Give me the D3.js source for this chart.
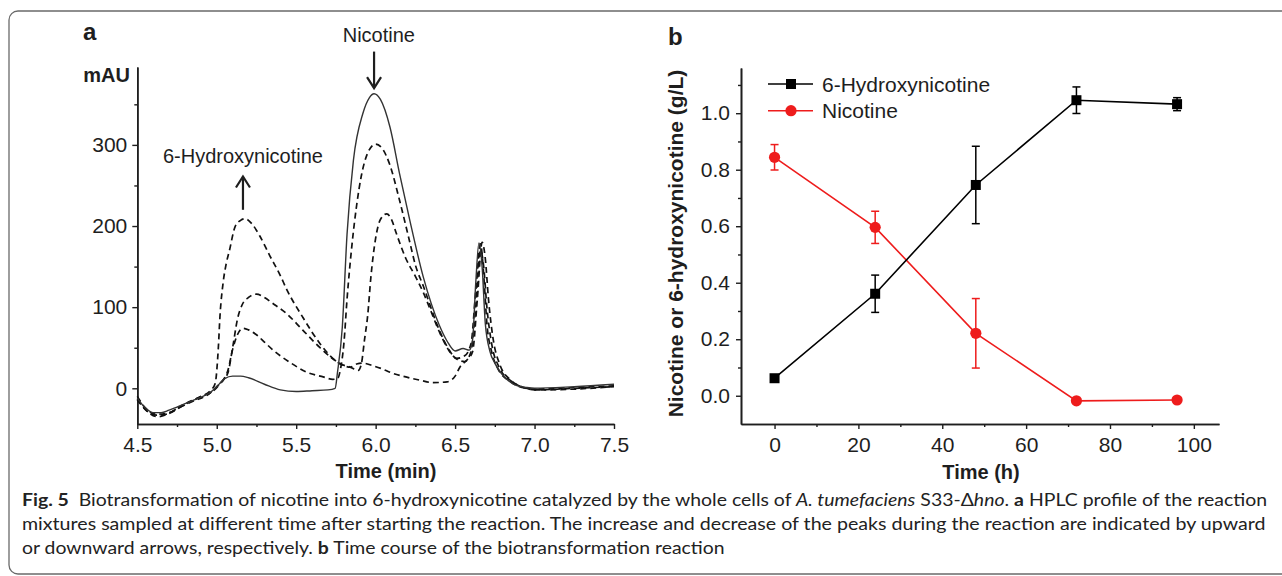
<!DOCTYPE html>
<html><head><meta charset="utf-8">
<script src="https://cdn.jsdelivr.net/npm/d3@7"></script>
<style>body{margin:0;background:#fff}svg{display:block}</style>
</head><body>
<svg id="c" width="1282" height="576"></svg>
<script>
// ---------------- DATA ----------------
// Panel a: HPLC chromatograms, [time (min), absorbance (mAU)]
const hplcT0 = [[4.50,-12],[4.55,-24],[4.60,-30],[4.65,-30],[4.70,-27],[4.80,-19],[4.90,-11],[4.96,-5],[5.00,2],[5.05,12],[5.10,15],[5.15,15],[5.20,13],[5.30,5],[5.40,-2],[5.50,-4],[5.60,-3],[5.70,-2],[5.745,0],[5.76,20],[5.79,75],[5.82,190],[5.86,281],[5.92,339],[5.96,358],[5.99,363],[6.03,356],[6.09,322],[6.15,265],[6.215,207],[6.30,137],[6.40,78],[6.45,58],[6.50,46],[6.55,49],[6.59,47],[6.61,60],[6.63,130],[6.65,179],[6.67,150],[6.69,80],[6.72,45],[6.75,31],[6.82,12],[6.88,4],[6.95,1],[7.00,0],[7.25,2],[7.50,5]];
const hplcT1 = [[4.50,-14],[4.55,-26],[4.62,-33],[4.68,-32],[4.75,-25],[4.85,-16],[4.95,-7],[5.00,2],[5.04,10],[5.07,22],[5.10,48],[5.13,66],[5.165,74],[5.20,72],[5.25,66],[5.30,57],[5.355,47],[5.40,40],[5.46,32],[5.565,20],[5.67,14],[5.73,11],[5.76,12],[5.78,25],[5.80,55],[5.82,110],[5.85,175],[5.88,225],[5.91,262],[5.95,290],[6.00,301],[6.04,296],[6.09,275],[6.15,232],[6.215,180],[6.25,152],[6.30,126],[6.40,72],[6.46,48],[6.51,37],[6.56,40],[6.60,55],[6.63,120],[6.66,178],[6.68,140],[6.70,80],[6.73,45],[6.77,24],[6.85,8],[6.92,1],[7.00,-1],[7.25,1],[7.50,3]];
const hplcT2 = [[4.50,-13],[4.56,-28],[4.63,-35],[4.70,-31],[4.80,-20],[4.90,-10],[4.98,-3],[5.03,8],[5.07,19],[5.10,50],[5.13,85],[5.16,103],[5.20,112],[5.25,116],[5.30,112],[5.35,105],[5.44,92],[5.54,72],[5.65,50],[5.72,38],[5.78,30],[5.84,26],[5.89,22],[5.91,30],[5.93,60],[5.95,90],[5.97,137],[6.00,185],[6.03,208],[6.07,215],[6.10,208],[6.13,191],[6.19,160],[6.25,138],[6.30,118],[6.35,94],[6.40,70],[6.46,47],[6.51,36],[6.56,33],[6.60,45],[6.63,100],[6.66,170],[6.68,150],[6.70,100],[6.73,55],[6.78,25],[6.86,8],[6.95,0],[7.00,-2],[7.25,0],[7.50,2]];
const hplcT3 = [[4.50,-10],[4.55,-24],[4.62,-32],[4.70,-30],[4.80,-19],[4.90,-10],[4.96,-3],[4.99,6],[5.01,50],[5.02,88],[5.04,130],[5.06,154],[5.08,170],[5.115,199],[5.15,207],[5.18,209],[5.22,203],[5.27,188],[5.335,163],[5.40,139],[5.44,122],[5.54,88],[5.65,55],[5.73,37],[5.80,28],[5.84,26],[5.88,30],[5.92,31],[5.98,28],[6.04,24],[6.10,19],[6.19,14],[6.28,10],[6.36,7],[6.45,8],[6.50,15],[6.53,26],[6.58,36],[6.61,45],[6.64,110],[6.67,180],[6.69,160],[6.71,110],[6.74,60],[6.78,30],[6.85,10],[6.92,2],[7.00,-2],[7.25,-1],[7.50,2]];
const hplcXTicks = [4.5, 5.0, 5.5, 6.0, 6.5, 7.0, 7.5];
const hplcXMinor = [4.75, 5.25, 5.75, 6.25, 6.75, 7.25];
const hplcYTicks = [0, 100, 200, 300];
const hplcYMinor = [50, 150, 250, 350];

// Panel b: time course
const timeH = [0, 24, 48, 72, 96];
const hydroxy = [0.062, 0.361, 0.746, 1.046, 1.032];
const hydroxyErr = [0, 0.066, 0.137, 0.047, 0.023];
const nicotine = [0.844, 0.596, 0.221, -0.018, -0.015];
const nicotineErr = [0.045, 0.057, 0.123, 0, 0];
const tcXTicks = [0, 20, 40, 60, 80, 100];
const tcXMinor = [10, 30, 50, 70, 90];
const tcYTicks = [0.0, 0.2, 0.4, 0.6, 0.8, 1.0];
const tcYMinor = [0.1, 0.3, 0.5, 0.7, 0.9, 1.1];
const seriesNames = ["6-Hydroxynicotine", "Nicotine"];

// ---------------- DRAW ----------------
const svg = d3.select("#c");
const FONT = "'Liberation Sans', Arial, Helvetica, sans-serif";
const INK = "#1e1e1e";
const RED = "#ee1c1c";

// frame
svg.append("rect").attr("x", 9).attr("y", 11).attr("width", 1320).attr("height", 563)
  .attr("rx", 9).attr("fill", "none").attr("stroke", "#6a6a6a").attr("stroke-width", 1.3);

function styleAxis(g, showText) {
  g.attr("font-family", FONT).attr("font-size", 21);
  g.select(".domain").attr("stroke", INK).attr("stroke-width", 1.6);
  g.selectAll(".tick line").attr("stroke", INK).attr("stroke-width", 1.4);
  g.selectAll(".tick text").attr("fill", INK);
  if (!showText) g.selectAll(".tick text").remove();
}

// ===== Panel a =====
const xA = d3.scaleLinear().domain([4.5, 7.5]).range([137.3, 614]);
const yA = d3.scaleLinear().domain([-44, 396]).range([424, 67]);

svg.append("g").attr("transform", "translate(0,424)")
  .call(d3.axisBottom(xA).tickValues(hplcXMinor).tickSize(3).tickSizeOuter(0))
  .call(g => styleAxis(g, false));
svg.append("g").attr("transform", "translate(0,424)")
  .call(d3.axisBottom(xA).tickValues(hplcXTicks).tickFormat(d3.format(".1f")).tickSize(5).tickPadding(8).tickSizeOuter(0))
  .call(g => styleAxis(g, true));
svg.append("g").attr("transform", "translate(137.3,0)")
  .call(d3.axisLeft(yA).tickValues(hplcYMinor).tickSize(3).tickSizeOuter(0))
  .call(g => styleAxis(g, false));
svg.append("g").attr("transform", "translate(137.3,0)")
  .call(d3.axisLeft(yA).tickValues(hplcYTicks).tickSize(5).tickPadding(5).tickSizeOuter(0))
  .call(g => styleAxis(g, true));

const lineA = d3.line().x(d => xA(d[0])).y(d => yA(d[1])).curve(d3.curveMonotoneX);
[hplcT1, hplcT2, hplcT3].forEach(s => {
  svg.append("path").datum(s).attr("d", lineA).attr("fill", "none")
    .attr("stroke", "#111").attr("stroke-width", 1.7).attr("stroke-dasharray", "6,4");
});
svg.append("path").datum(hplcT0).attr("d", lineA).attr("fill", "none")
  .attr("stroke", "#333").attr("stroke-width", 1.4);

// labels panel a
svg.append("text").attr("x", 83).attr("y", 40).text("a")
  .attr("font-family", FONT).attr("font-weight", "bold").attr("font-size", 24).attr("fill", INK);
svg.append("text").attr("x", 130).attr("y", 82).attr("text-anchor", "end").text("mAU")
  .attr("font-family", FONT).attr("font-weight", "bold").attr("font-size", 20).attr("fill", INK);
svg.append("text").attr("x", xA(6.02)).attr("y", yA(427)).attr("text-anchor", "middle").text("Nicotine")
  .attr("font-family", FONT).attr("font-size", 20).attr("fill", INK);
svg.append("text").attr("x", xA(5.165)).attr("y", yA(278)).attr("text-anchor", "middle").text("6-Hydroxynicotine")
  .attr("font-family", FONT).attr("font-size", 20).attr("fill", INK);
svg.append("text").attr("x", 386).attr("y", 478).attr("text-anchor", "middle").text("Time (min)")
  .attr("font-family", FONT).attr("font-weight", "bold").attr("font-size", 20).attr("fill", INK);

function arrow(x, y0, y1) { // from y0 (tail) to y1 (tip)
  const dir = y1 > y0 ? -1 : 1;
  svg.append("line").attr("x1", x).attr("x2", x).attr("y1", y0).attr("y2", y1)
    .attr("stroke", INK).attr("stroke-width", 2.2);
  svg.append("path").attr("d", `M${x - 7},${y1 + dir * 11} L${x},${y1} L${x + 7},${y1 + dir * 11}`)
    .attr("fill", "none").attr("stroke", INK).attr("stroke-width", 2.2);
}
arrow(xA(5.99), yA(415), yA(370));
arrow(xA(5.165), yA(220), yA(261));

// ===== Panel b =====
const xB = d3.scaleLinear().domain([-8, 106]).range([741, 1219]);
const yB = d3.scaleLinear().domain([-0.1, 1.16]).range([424, 68]);

svg.append("g").attr("transform", "translate(0,424)")
  .call(d3.axisBottom(xB).tickValues(tcXMinor).tickSize(3).tickSizeOuter(0))
  .call(g => styleAxis(g, false));
svg.append("g").attr("transform", "translate(0,424)")
  .call(d3.axisBottom(xB).tickValues(tcXTicks).tickFormat(d3.format("d")).tickSize(5).tickPadding(8).tickSizeOuter(0))
  .call(g => styleAxis(g, true));
svg.append("g").attr("transform", "translate(741,0)")
  .call(d3.axisLeft(yB).tickValues(tcYMinor).tickSize(3).tickSizeOuter(0))
  .call(g => styleAxis(g, false));
svg.append("g").attr("transform", "translate(741,0)")
  .call(d3.axisLeft(yB).tickValues(tcYTicks).tickFormat(d3.format(".1f")).tickSize(5).tickPadding(6).tickSizeOuter(0))
  .call(g => styleAxis(g, true));

const lineB = d3.line().x(d => xB(d.t)).y(d => yB(d.v));
const hyd = timeH.map((t, i) => ({t, v: hydroxy[i], e: hydroxyErr[i]}));
const nic = timeH.map((t, i) => ({t, v: nicotine[i], e: nicotineErr[i]}));

function errorBars(data, color) {
  const g = svg.append("g").attr("stroke", color).attr("stroke-width", 1.5);
  data.filter(d => d.e > 0).forEach(d => {
    const x = xB(d.t);
    g.append("line").attr("x1", x).attr("x2", x).attr("y1", yB(d.v - d.e)).attr("y2", yB(d.v + d.e));
    g.append("line").attr("x1", x - 4).attr("x2", x + 4).attr("y1", yB(d.v - d.e)).attr("y2", yB(d.v - d.e));
    g.append("line").attr("x1", x - 4).attr("x2", x + 4).attr("y1", yB(d.v + d.e)).attr("y2", yB(d.v + d.e));
  });
}
svg.append("path").datum(nic).attr("d", lineB).attr("fill", "none").attr("stroke", RED).attr("stroke-width", 1.6);
svg.append("path").datum(hyd).attr("d", lineB).attr("fill", "none").attr("stroke", "#000").attr("stroke-width", 1.6);
errorBars(nic, RED);
errorBars(hyd, "#000");
svg.selectAll(".nicPt").data(nic).enter().append("circle")
  .attr("cx", d => xB(d.t)).attr("cy", d => yB(d.v)).attr("r", 5.6).attr("fill", RED);
svg.selectAll(".hydPt").data(hyd).enter().append("rect")
  .attr("x", d => xB(d.t) - 5).attr("y", d => yB(d.v) - 5).attr("width", 10).attr("height", 10).attr("fill", "#000");

// legend
const legY = [84, 110.7];
[["#000", "sq"], [RED, "ci"]].forEach((s, i) => {
  svg.append("line").attr("x1", 768).attr("x2", 813).attr("y1", legY[i]).attr("y2", legY[i])
    .attr("stroke", s[0]).attr("stroke-width", 1.6);
  if (s[1] === "sq") svg.append("rect").attr("x", 786).attr("y", legY[i] - 5).attr("width", 10).attr("height", 10).attr("fill", s[0]);
  else svg.append("circle").attr("cx", 791).attr("cy", legY[i]).attr("r", 5.6).attr("fill", s[0]);
  svg.append("text").attr("x", 822).attr("y", legY[i]).attr("dy", "0.36em").text(seriesNames[i])
    .attr("font-family", FONT).attr("font-size", 21).attr("fill", INK);
});

svg.append("text").attr("x", 668).attr("y", 45).text("b")
  .attr("font-family", FONT).attr("font-weight", "bold").attr("font-size", 24).attr("fill", INK);
svg.append("text").attr("x", 981).attr("y", 479).attr("text-anchor", "middle").text("Time (h)")
  .attr("font-family", FONT).attr("font-weight", "bold").attr("font-size", 20).attr("fill", INK);
svg.append("text").attr("transform", "translate(683,243.5) rotate(-90)").attr("text-anchor", "middle")
  .text("Nicotine or 6-hydroxynicotine (g/L)")
  .attr("font-family", FONT).attr("font-weight", "bold").attr("font-size", 21).attr("fill", INK);

// ===== Caption =====
const capFont = "Lato, 'Open Sans', sans-serif";
const capLines = [
  [["Fig. 5", "b", ""], ["  Biotransformation of nicotine into 6-hydroxynicotine catalyzed by the whole cells of ", "", ""], ["A. tumefaciens", "", "i"], [" S33-Δ", "", ""], ["hno", "", "i"], [". ", "", ""], ["a", "b", ""], [" HPLC profile of the reaction", "", ""]],
  [["mixtures sampled at different time after starting the reaction. The increase and decrease of the peaks during the reaction are indicated by upward", "", ""]],
  [["or downward arrows, respectively. ", "", ""], ["b", "b", ""], [" Time course of the biotransformation reaction", "", ""]]
];
const capY = [506, 530, 554];
const capWidth = [1246, 1244, 703];
capLines.forEach((ln, i) => {
  const t = svg.append("text").attr("x", 0).attr("y", 0).attr("transform", `translate(22,${capY[i]})`)
    .attr("font-family", capFont).attr("font-size", 17).attr("fill", "#222").style("white-space", "pre");
  ln.forEach(p => {
    t.append("tspan").text(p[0]).attr("font-weight", p[1] === "b" ? "bold" : "normal")
      .attr("font-style", p[2] === "i" ? "italic" : "normal");
  });
  const w = t.node().getBBox().width;
  t.attr("transform", `translate(22,${capY[i]}) scale(${capWidth[i] / w},1)`);
});
</script>
</body></html>
